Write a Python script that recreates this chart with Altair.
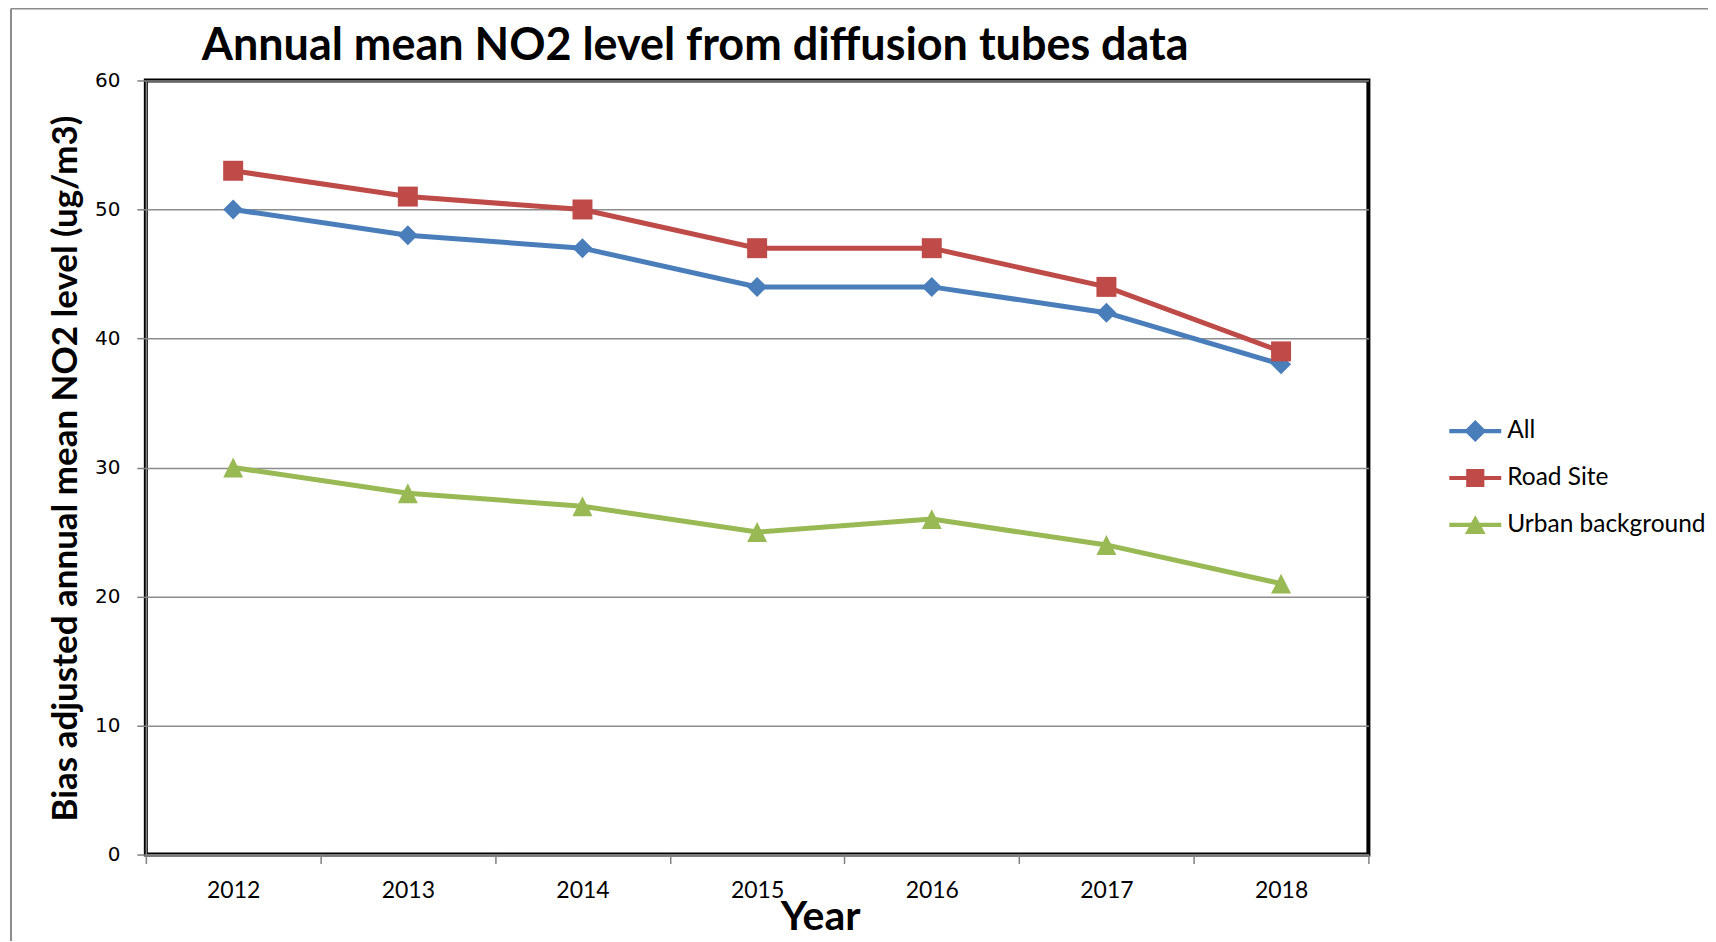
import altair as alt
import pandas as pd

years = ["2012", "2013", "2014", "2015", "2016", "2017", "2018"]
series_names = ["All", "Road Site", "Urban background"]
all_vals = [50, 48, 47, 44, 44, 42, 38]
road_vals = [53, 51, 50, 47, 47, 44, 39]
urban_vals = [30, 28, 27, 25, 26, 24, 21]
colors = ["#4a7ebb", "#be4b48", "#98b954"]
marker_shapes = ["diamond", "square", "M0,-1L1,1L-1,1Z"]
y_ticks = [0, 10, 20, 30, 40, 50, 60]
chart_title = "Annual mean NO2 level from diffusion tubes data"

rows = []
for name, vals in zip(series_names, [all_vals, road_vals, urban_vals]):
    for yr, v in zip(years, vals):
        rows.append({"Year": yr, "Series": name, "Value": v})
df = pd.DataFrame(rows)

W, H = 1224, 775

# legend symbol paths: line + marker (units of sqrt(symbolSize)/2)
LINE = "M-2,-0.16L2,-0.16L2,0.16L-2,0.16Z"
leg_paths = [
    LINE + "M0,-0.85L0.85,0L0,0.85L-0.85,0Z",
    LINE + "M-0.7,-0.7L0.7,-0.7L0.7,0.7L-0.7,0.7Z",
    LINE + "M0,-0.75L0.8,0.7L-0.8,0.7Z",
]
shape_expr = (
    f"datum.value === '{series_names[0]}' ? '{leg_paths[0]}' : "
    f"datum.value === '{series_names[1]}' ? '{leg_paths[1]}' : '{leg_paths[2]}'"
)

legend = alt.Legend(
    title=None,
    orient="none",
    legendX=1318,
    legendY=338,
    symbolSize=676,
    symbolStrokeWidth=0,
    symbolType={"expr": shape_expr},
    symbolFillColor={"expr": "scale('color', datum.value)"},
    symbolOpacity=1,
    labelOffset=19,
    labelLimit=400,
    rowPadding=22,
    padding=0,
    labelFont="Lato",
    labelFontSize=24.5,
    labelColor="#000000",
)

x_enc = alt.X(
    "Year:N",
    sort=years,
    bandPosition=0.5,
    scale=alt.Scale(type="band", paddingInner=0, paddingOuter=0),
    axis=alt.Axis(
        title="Year",
        tickBand="extent",
        labelAngle=0,
        labelFont="Lato",
        labelFontSize=23,
        labelColor="#000000",
        labelBaseline="alphabetic",
        labelPadding=34,
        tickSize=9,
        tickColor="#808080",
        tickWidth=1.5,
        domainColor="#808080",
        domainWidth=1.5,
        grid=False,
        titleFont="Lato",
        titleFontSize=41,
        titleFontWeight="bold",
        titleColor="#000000",
        titleX=675,
        titleY=75,
        titleAlign="center",
        titleBaseline="alphabetic",
    ),
)

y_enc = alt.Y(
    "Value:Q",
    scale=alt.Scale(domain=[0, 60], nice=False),
    axis=alt.Axis(
        title="Bias adjusted annual mean NO2 level (ug/m3)",
        values=y_ticks,
        grid=True,
        gridColor="#8c8c8c",
        gridWidth=1.5,
        labelFont="DejaVu Sans",
        labelFontSize=20,
        labelColor="#000000",
        labelPadding=17,
        tickSize=9,
        tickColor="#808080",
        tickWidth=1.5,
        domainColor="#808080",
        domainWidth=1.5,
        titleFont="Lato",
        titleFontSize=35,
        titleFontWeight="bold",
        titleColor="#000000",
        titleAngle=270,
        titleX=-80,
        titleY=388,
        titleAlign="center",
        titleBaseline="middle",
    ),
)

color_scale = alt.Scale(domain=series_names, range=colors)

lines = alt.Chart(df).mark_line(strokeWidth=5).encode(
    x=x_enc,
    y=y_enc,
    color=alt.Color("Series:N", scale=color_scale, legend=legend, sort=series_names),
)

point_layers = []
for name, col, shp in zip(series_names, colors, marker_shapes):
    point_layers.append(
        alt.Chart(df)
        .transform_filter(alt.datum.Series == name)
        .mark_point(filled=True, size=400, opacity=1, strokeWidth=0, color=col, shape=shp)
        .encode(x=x_enc, y=y_enc)
    )

deco_df = pd.DataFrame({"t": [chart_title]})
title_mark = alt.Chart(deco_df).mark_text(
    font="Lato",
    fontSize=45,
    fontWeight="bold",
    color="#000000",
    align="center",
    baseline="alphabetic",
).encode(x=alt.value(550), y=alt.value(-20), text="t:N")

frame_top = alt.Chart(deco_df).mark_rule(color="#8c8c8c", strokeWidth=2).encode(
    x=alt.value(-135), x2=alt.value(1716), y=alt.value(-72)
)
frame_left = alt.Chart(deco_df).mark_rule(color="#8c8c8c", strokeWidth=2).encode(
    x=alt.value(-135), y=alt.value(-72), y2=alt.value(942)
)

chart = alt.layer(frame_top, frame_left, title_mark, lines, *point_layers).properties(
    width=W,
    height=H,
    autosize=alt.AutoSizeParams(type="none"),
    padding={"left": 138, "top": 72, "right": 340, "bottom": 86},
).configure_view(stroke="#000000", strokeWidth=4)

chart.save("out.html", embed_options={"renderer": "svg", "actions": False})
